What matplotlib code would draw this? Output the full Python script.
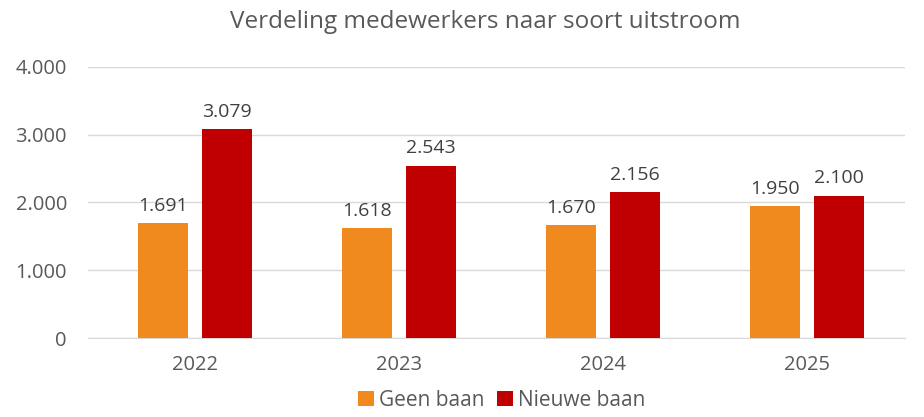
import numpy as np
import matplotlib.pyplot as plt
from matplotlib.ticker import FuncFormatter

years = ['2022', '2023', '2024', '2025']
geen_baan = [1691, 1618, 1670, 1950]
nieuwe_baan = [3079, 2543, 2156, 2100]

orange = '#F0891E'
red = '#C00000'
txt = '#595959'

plt.rcParams['font.family'] = ['Open Sans', 'DejaVu Sans']

fig = plt.figure(figsize=(9.24, 4.17), dpi=100)
ax = fig.add_axes([0.095, 0.1894, 0.884, 0.65])

x = np.arange(len(years))
w = 0.245
off = 0.157
b1 = ax.bar(x - off, geen_baan, w, color=orange, label='Geen baan', zorder=3)
b2 = ax.bar(x + off, nieuwe_baan, w, color=red, label='Nieuwe baan', zorder=3)

def fmt(v):
    return f'{int(v):,}'.replace(',', '.')

for bars in (b1, b2):
    for r in bars:
        h = r.get_height()
        ax.annotate(fmt(h), (r.get_x() + r.get_width() / 2, h),
                    xytext=(0, 6), textcoords='offset points',
                    ha='center', va='bottom', fontsize=14, color='#404040')

ax.set_xlim(-0.525, 3.48)
ax.set_ylim(0, 4000)
ax.set_yticks([0, 1000, 2000, 3000, 4000])
ax.yaxis.set_major_formatter(FuncFormatter(lambda v, p: fmt(v)))
ax.set_xticks(x)
ax.set_xticklabels(years)
ax.tick_params(axis='both', length=0, labelsize=14.5, colors=txt)
ax.tick_params(axis='x', pad=12)
ax.tick_params(axis='y', pad=15)
ax.grid(axis='y', color='#D9D9D9', linewidth=1, zorder=0)
for s in ['top', 'right', 'left']:
    ax.spines[s].set_visible(False)
ax.spines['bottom'].set_color('#D9D9D9')

fig.suptitle('Verdeling medewerkers naar soort uitstroom', x=0.525, y=0.975,
             fontsize=17.5, color=txt)

fig.legend(handles=[b1, b2], loc='center', bbox_to_anchor=(0.543, 0.04),
           ncol=2, frameon=False, fontsize=15, labelcolor=txt,
           handlelength=0.75, handleheight=0.75, handletextpad=0.25,
           columnspacing=0.6)

fig.savefig('out.png', dpi=100)
